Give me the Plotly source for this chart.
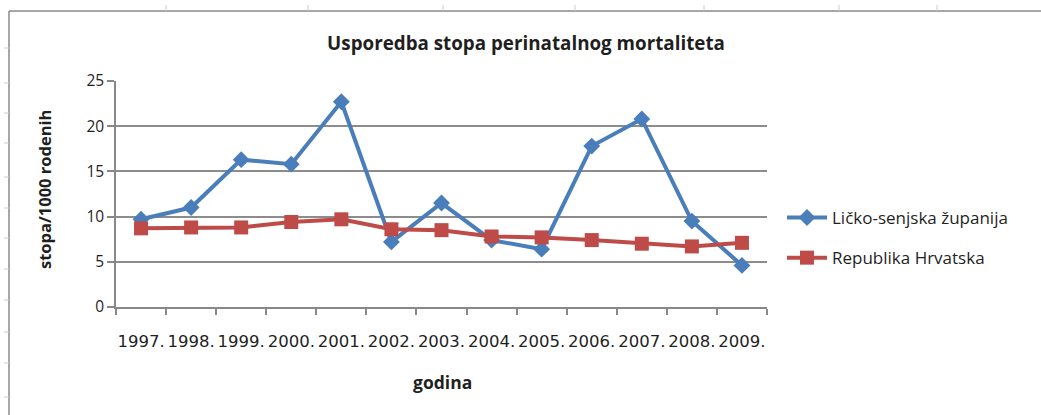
import plotly.graph_objects as go

years = ["1997.", "1998.", "1999.", "2000.", "2001.", "2002.", "2003.",
         "2004.", "2005.", "2006.", "2007.", "2008.", "2009."]
licko_senjska = [9.7, 11.0, 16.3, 15.8, 22.7, 7.2, 11.5, 7.4, 6.4, 17.8, 20.8, 9.5, 4.6]
hrvatska = [8.7, 8.8, 8.8, 9.4, 9.7, 8.6, 8.5, 7.8, 7.7, 7.4, 7.0, 6.7, 7.1]
y_ticks = [0, 5, 10, 15, 20, 25]

W, H = 1041, 415
FONT = "Open Sans"
TXT = "#1f1f1f"
BLUE = "#4A7EBB"
RED = "#BE4B48"
AX = "#888888"

fig = go.Figure()
fig.add_trace(go.Scatter(
    x=years, y=licko_senjska, mode="lines+markers", name="Ličko-senjska županija",
    legendgroup="a",
    line=dict(color=BLUE, width=4),
    marker=dict(symbol="diamond", size=13, color=BLUE),
))
fig.add_trace(go.Scatter(
    x=years, y=hrvatska, mode="lines+markers", name="Republika Hrvatska",
    legendgroup="b",
    line=dict(color=RED, width=4),
    marker=dict(symbol="square", size=14, color=RED),
))

x0, x1 = 116 / W, 767 / W
y0, y1 = 1 - 307 / H, 1 - 81 / H

fig.update_layout(
    width=W, height=H,
    margin=dict(l=0, r=0, t=0, b=0, autoexpand=False),
    paper_bgcolor="white", plot_bgcolor="white",
    font=dict(family=FONT, color=TXT),
    title=dict(text="<b>Usporedba stopa perinatalnog mortaliteta</b>",
               x=526 / W, xanchor="center", y=1 - 43 / H, yanchor="middle",
               font=dict(size=18.8, family=FONT, color=TXT)),
    xaxis=dict(
        domain=[x0, x1], type="category", tickson="boundaries", automargin=False,
        ticks="outside", ticklen=6, tickcolor=AX, tickwidth=1.5,
        showline=True, linecolor=AX, linewidth=1.5, tickangle=0,
        showgrid=False, tickfont=dict(size=16.5, family="DejaVu Sans", color=TXT),
        ticklabelstandoff=18,
        range=[-0.5, 12.5],
    ),
    yaxis=dict(
        domain=[y0, y1], range=[0, 25], tickvals=y_ticks, automargin=False,
        ticks="outside", ticklen=7, tickcolor=AX, tickwidth=1.5,
        showline=True, linecolor=AX, linewidth=1.5,
        showgrid=True, gridcolor="#8c8c8c", gridwidth=1.5, zeroline=False,
        tickfont=dict(size=15.5, family=FONT, color=TXT),
    ),
    legend=dict(x=782 / W, y=1 - 200 / H, xanchor="left", yanchor="top",
                font=dict(size=17, family=FONT, color=TXT),
                bgcolor="rgba(0,0,0,0)", itemwidth=40, tracegroupgap=15),
    showlegend=True,
    annotations=[
        dict(text="<b>godina</b>", xref="paper", yref="paper", x=442 / W, y=1 - 382 / H,
             xanchor="center", yanchor="middle", showarrow=False,
             font=dict(size=17.5, family=FONT, color=TXT)),
        dict(text="<b>stopa/1000 rodenih</b>", xref="paper", yref="paper", x=45 / W, y=1 - 190 / H,
             xanchor="center", yanchor="middle", showarrow=False, textangle=-90,
             font=dict(size=16.5, family=FONT, color=TXT)),
    ],
)

# outer chart frame (spreadsheet-like)
shapes = [
    dict(type="line", xref="paper", yref="paper", x0=9 / W, x1=1, y0=1 - 11 / H, y1=1 - 11 / H,
         line=dict(color="#8a8a8a", width=1.5)),
    dict(type="line", xref="paper", yref="paper", x0=9 / W, x1=9 / W, y0=0, y1=1 - 11 / H,
         line=dict(color="#8a8a8a", width=1.5)),
]
for tx in [166, 308, 443, 575, 704, 839, 937]:
    shapes.append(dict(type="line", xref="paper", yref="paper", x0=tx / W, x1=tx / W,
                       y0=1 - 5 / H, y1=1 - 11 / H, line=dict(color="#cccccc", width=1)))
for ty in [48, 83, 113, 143, 177, 208, 238, 269, 300, 332, 363, 397]:
    shapes.append(dict(type="line", xref="paper", yref="paper", x0=4 / W, x1=9 / W,
                       y0=1 - ty / H, y1=1 - ty / H, line=dict(color="#cccccc", width=1)))
fig.update_layout(shapes=shapes)

fig.write_html("out.html", config={"displayModeBar": False},
               post_script="document.body.style.margin='0';document.body.style.overflow='hidden';")
